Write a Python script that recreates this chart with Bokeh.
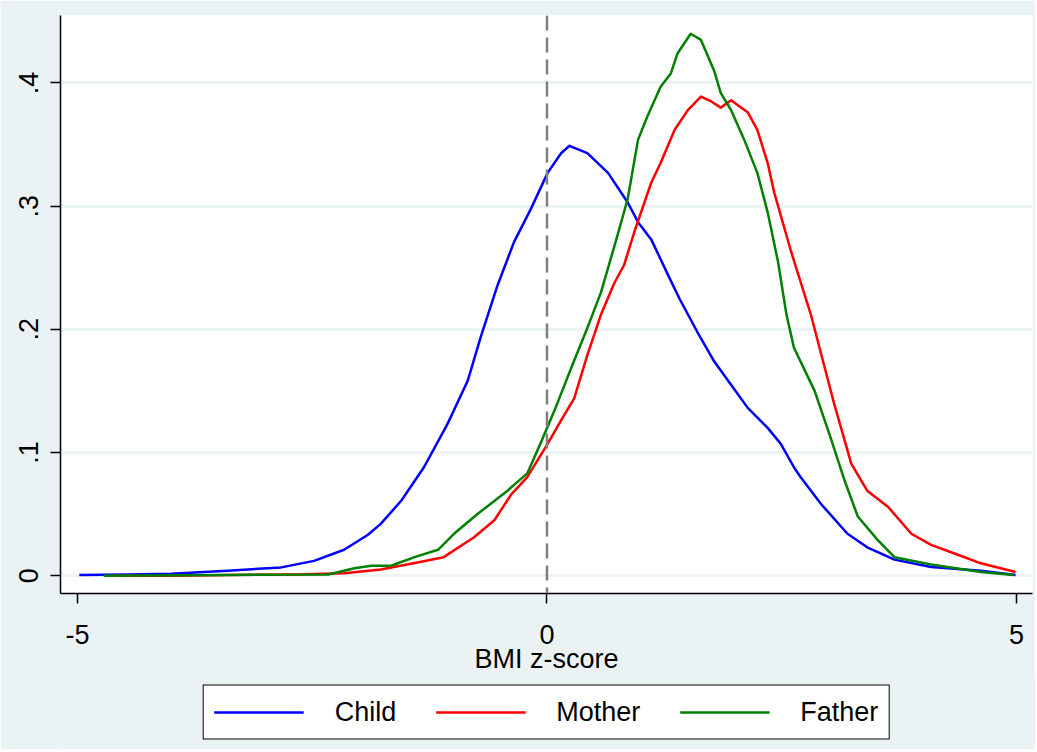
from bokeh.plotting import figure
from bokeh.models import Span, Legend, LegendItem, FixedTicker, Range1d
from bokeh.layouts import column
from bokeh.embed import file_html
from bokeh.resources import INLINE

# ---- data ----
child_z = [-4.98, -4.47, -4.0, -3.4, -2.83, -2.48, -2.16, -1.91, -1.77, -1.55, -1.31, -1.06,
           -0.845, -0.70, -0.525, -0.35, -0.17, 0.007, 0.15, 0.24, 0.43, 0.65, 0.86, 0.97,
           1.11, 1.29, 1.41, 1.60, 1.78, 1.96, 2.14, 2.35, 2.49, 2.63, 2.70, 2.92, 3.20,
           3.41, 3.70, 4.09, 4.62, 4.99]
child_d = [0.0005, 0.001, 0.0015, 0.004, 0.0067, 0.012, 0.021, 0.033, 0.042, 0.061, 0.088, 0.123,
           0.158, 0.195, 0.236, 0.271, 0.298, 0.327, 0.343, 0.349, 0.343, 0.327, 0.303, 0.287,
           0.273, 0.244, 0.225, 0.198, 0.174, 0.155, 0.136, 0.120, 0.107, 0.088, 0.080, 0.058, 0.034,
           0.023, 0.013, 0.007, 0.004, 0.0006]

mother_z = [-4.6, -3.93, -3.4, -2.69, -2.16, -1.77, -1.42, -1.10, -0.78, -0.56, -0.38, -0.21,
            0.007, 0.15, 0.29, 0.43, 0.575, 0.72, 0.82, 0.93, 1.11, 1.21, 1.36, 1.50, 1.64,
            1.75, 1.85, 1.96, 2.14, 2.24, 2.35, 2.42, 2.60, 2.81, 3.06, 3.24, 3.41, 3.63,
            3.88, 4.09, 4.34, 4.62, 4.99]
mother_d = [0.0, 0.0, 0.0005, 0.001, 0.002, 0.005, 0.010, 0.015, 0.031, 0.045, 0.066, 0.080,
            0.107, 0.126, 0.144, 0.179, 0.212, 0.238, 0.252, 0.279, 0.319, 0.335, 0.362, 0.378, 0.389,
            0.385, 0.380, 0.386, 0.376, 0.362, 0.335, 0.311, 0.263, 0.212, 0.139, 0.091, 0.069, 0.056,
            0.034, 0.025, 0.018, 0.010, 0.003]

father_z = [-4.72, -3.4, -2.33, -2.05, -1.87, -1.66, -1.41, -1.16, -0.99, -0.74, -0.42, -0.21,
            -0.06, 0.08, 0.26, 0.43, 0.575, 0.75, 0.86, 0.97, 1.07, 1.21, 1.32, 1.39, 1.53,
            1.64, 1.78, 1.85, 1.96, 2.10, 2.24, 2.35, 2.46, 2.55, 2.63, 2.85, 3.02, 3.17,
            3.31, 3.52, 3.70, 4.09, 4.62, 4.97]
father_d = [0.0, 0.0005, 0.001, 0.006, 0.008, 0.008, 0.015, 0.021, 0.034, 0.050, 0.069, 0.083,
            0.109, 0.134, 0.169, 0.201, 0.230, 0.276, 0.306, 0.354, 0.373, 0.397, 0.408, 0.424, 0.440,
            0.435, 0.410, 0.392, 0.378, 0.354, 0.327, 0.295, 0.255, 0.212, 0.185, 0.150, 0.112, 0.077,
            0.048, 0.029, 0.015, 0.009, 0.003, 0.0006]

series_names = ["Child", "Mother", "Father"]
series_colors = ["#0000FF", "#FF0000", "#008000"]

x_ticks = [-5, 0, 5]
x_tick_labels = ["-5", "0", "5"]
y_ticks = [0, 0.1, 0.2, 0.3, 0.4]
y_tick_labels = ["0", ".1", ".2", ".3", ".4"]

BG = "#EAF2F3"
FONT = "Liberation Sans"
W = 1035

p = figure(width=W, height=676, output_backend="svg", toolbar_location=None,
           x_range=Range1d(-5.18, 5.17), y_range=Range1d(-0.0145, 0.4548),
           min_border_left=60, min_border_right=3, min_border_top=15, min_border_bottom=79)
p.background_fill_color = "white"
p.border_fill_color = BG
p.outline_line_color = None

# grid
p.xgrid.grid_line_color = None
p.ygrid.grid_line_color = BG
p.ygrid.grid_line_width = 2.5
p.ygrid.ticker = FixedTicker(ticks=y_ticks)

# axes
p.xaxis.ticker = FixedTicker(ticks=x_ticks)
p.xaxis.major_label_overrides = {t: l for t, l in zip(x_ticks, x_tick_labels)}
p.yaxis.ticker = FixedTicker(ticks=y_ticks)
p.yaxis.major_label_overrides = {t: l for t, l in zip(y_ticks, y_tick_labels)}
p.yaxis.major_label_orientation = "vertical"
for ax in (p.xaxis, p.yaxis):
    ax.axis_line_color = "black"
    ax.axis_line_width = 1.5
    ax.major_tick_line_color = "black"
    ax.major_tick_line_width = 1.5
    ax.major_tick_in = 0
    ax.major_tick_out = 10
    ax.minor_tick_line_color = None
    ax.major_label_text_font = FONT
    ax.major_label_text_font_size = "27px"
    ax.major_label_text_color = "black"
p.yaxis.major_label_standoff = 12
p.xaxis.major_label_standoff = 21
p.xaxis.axis_label = "BMI z-score"
p.xaxis.axis_label_text_font = FONT
p.xaxis.axis_label_text_font_size = "27px"
p.xaxis.axis_label_text_font_style = "normal"
p.xaxis.axis_label_text_color = "black"
p.xaxis.axis_label_standoff = -3

# dashed reference line at 0
p.add_layout(Span(location=0, dimension="height", line_color="#7F7F7F",
                  line_width=2.5, line_dash="15 7"))

series = [(child_z, child_d), (mother_z, mother_d), (father_z, father_d)]
for (zs, ds), col in zip(series, series_colors):
    p.line(zs, ds, line_color=col, line_width=2.5, line_join="round")

# ---- legend strip below the plot (keys reuse the series; their data lie outside this strip's view) ----
lg = figure(width=W, height=74, output_backend="svg", toolbar_location=None,
            x_range=Range1d(-5.18, 5.17), y_range=Range1d(-2.0, -1.0),
            x_axis_location=None, y_axis_location=None, min_border=0)
lg.margin = (-1, 0, 0, 0)
lg.background_fill_color = BG
lg.border_fill_color = BG
lg.outline_line_color = None
lg.grid.visible = False
keys = [lg.line(zs, ds, line_color=c, line_width=2.5) for (zs, ds), c in zip(series, series_colors)]

legend = Legend(items=[LegendItem(label=n, renderers=[r]) for n, r in zip(series_names, keys)],
                orientation="horizontal", location="center",
                label_text_font=FONT, label_text_font_size="27px", label_text_color="black",
                glyph_width=90, glyph_height=33, label_height=33,
                label_standoff=31, spacing=39, padding=10, margin=0,
                border_line_color="black", border_line_width=1.5, border_line_alpha=1.0,
                background_fill_color="white", background_fill_alpha=1.0)
lg.add_layout(legend, "center")

layout = column(p, lg, spacing=0)
open("out.html", "w").write(file_html(layout, INLINE))
